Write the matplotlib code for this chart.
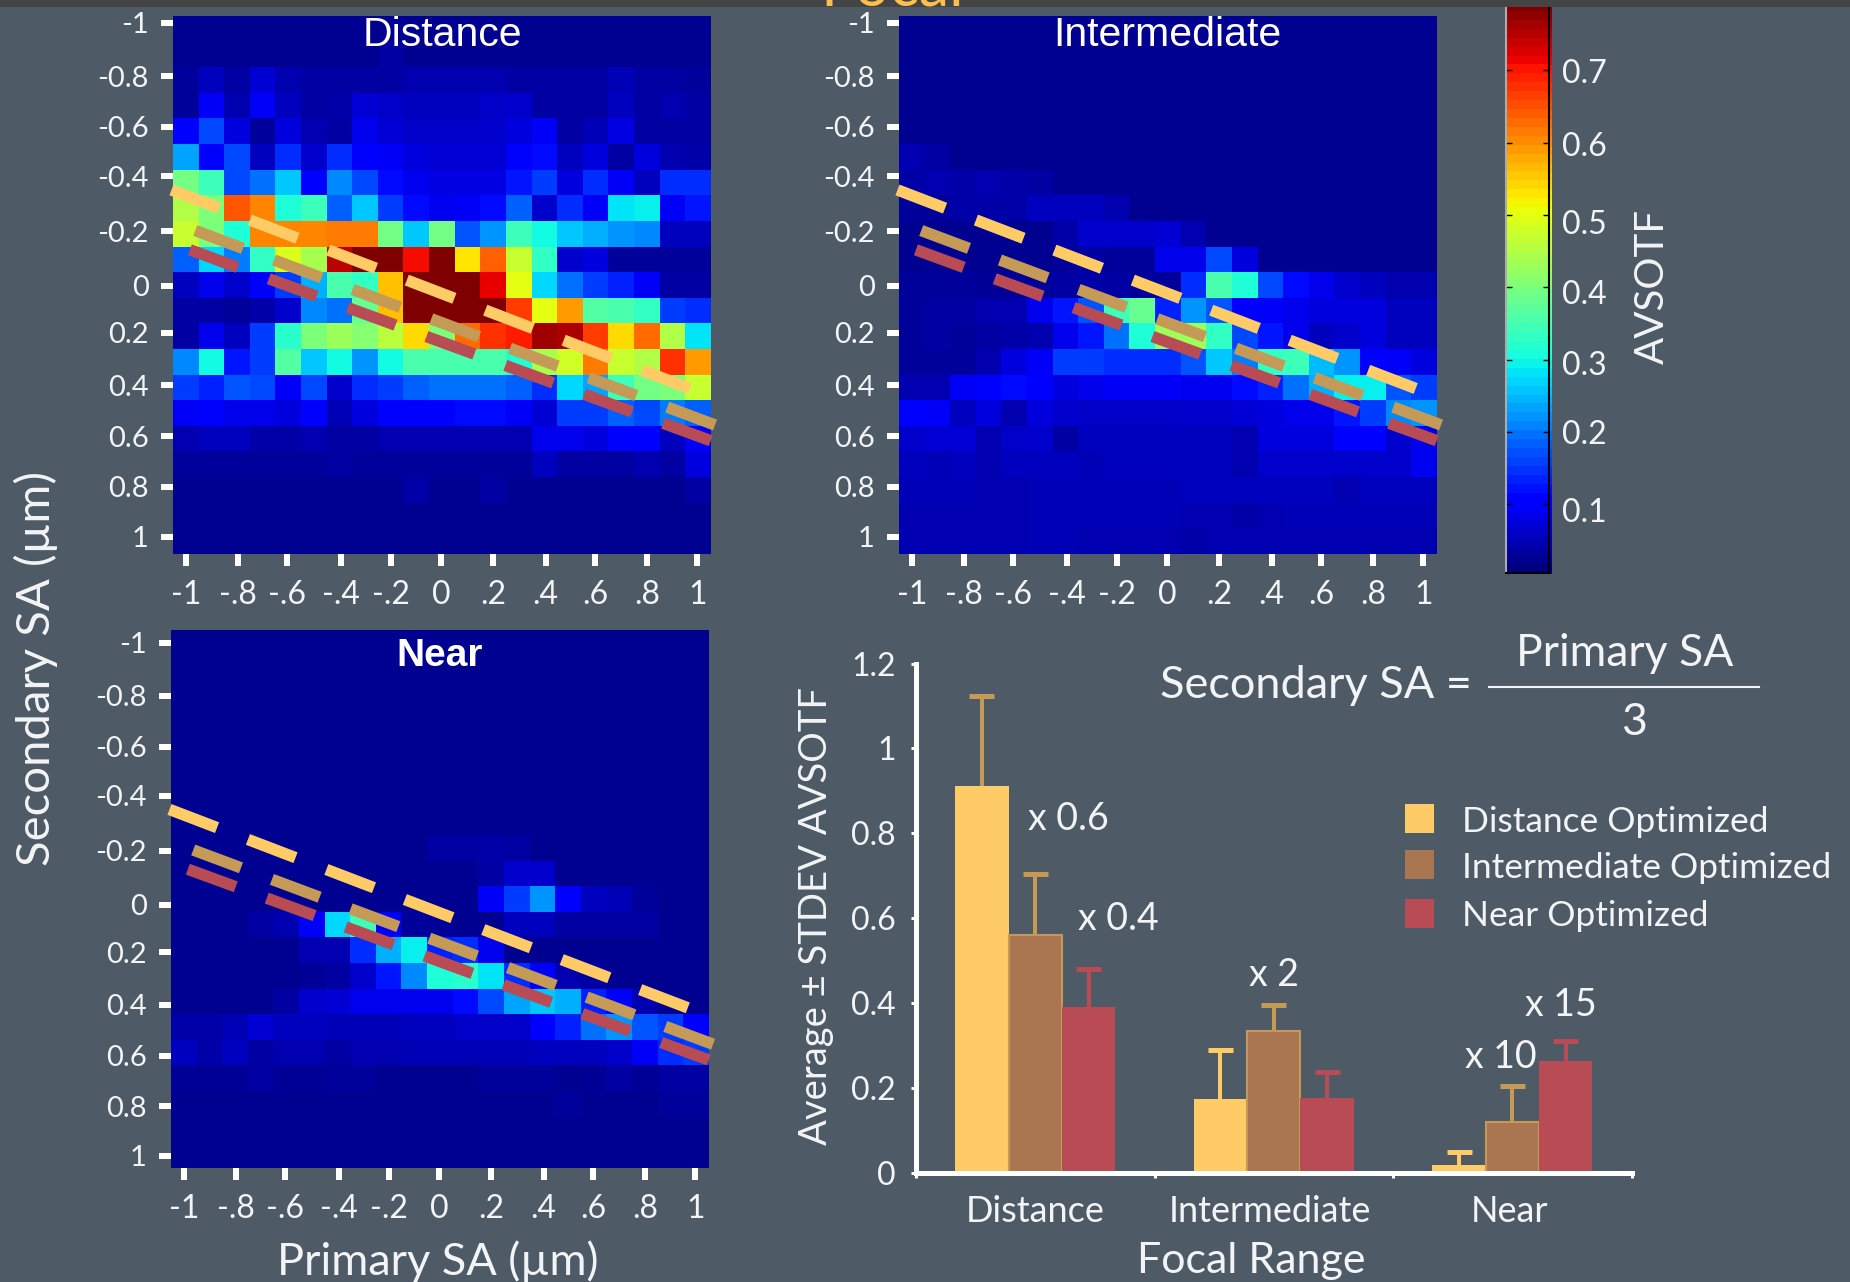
import numpy as np
import matplotlib
matplotlib.use("Agg")
import matplotlib.pyplot as plt
from matplotlib.patches import Rectangle
from matplotlib.transforms import ScaledTranslation

W, H = 1850, 1282
BG = "#4E5A65"
TXT = "#F2F4F5"
FONT = "Lato"
TITLE_FONT = "Liberation Sans"

z = 0.02
distance = [
 [z]*21,
 [z]*8 + [.03] + [z]*12,
 [.025,.05,.03,.065,.04,.03,.03,.03,.03,.04,.04,.04,.04,.03,.03,.03,.03,.045,.03,.03,.025],
 [.025,.09,.04,.09,.05,.03,.035,.065,.055,.05,.05,.05,.055,.06,.03,.03,.03,.05,.03,.04,.03],
 [.10,.16,.07,.025,.07,.04,.03,.08,.065,.055,.055,.055,.06,.07,.09,.03,.045,.075,.03,.03,.03],
 [.23,.10,.16,.05,.14,.06,.14,.10,.09,.07,.065,.065,.065,.095,.11,.05,.07,.03,.07,.04,.035],
 [.39,.34,.16,.19,.26,.10,.21,.16,.11,.085,.075,.075,.075,.12,.15,.07,.14,.09,.05,.14,.14],
 [.45,.40,.65,.61,.31,.34,.18,.26,.15,.11,.085,.09,.11,.18,.06,.14,.09,.28,.29,.09,.12],
 [.47,.40,.31,.61,.61,.61,.62,.62,.39,.26,.39,.17,.22,.34,.30,.26,.24,.22,.21,.05,.05],
 [.18,.27,.20,.33,.49,.44,.75,.79,.79,.71,.79,.53,.64,.47,.33,.06,.07,.025,.025,.025,.025],
 [.05,.08,.06,.10,.15,.24,.35,.33,.56,.79,.79,.79,.72,.50,.27,.19,.15,.13,.09,.03,.03],
 [.03,.03,.025,.035,.06,.21,.19,.38,.56,.79,.79,.79,.79,.67,.50,.59,.36,.35,.33,.15,.14],
 [.03,.08,.05,.15,.32,.40,.43,.41,.46,.54,.40,.63,.68,.70,.77,.76,.67,.54,.63,.45,.28],
 [.21,.30,.12,.15,.36,.26,.30,.22,.30,.35,.35,.35,.35,.31,.44,.48,.62,.47,.45,.68,.59],
 [.15,.13,.17,.16,.09,.16,.06,.14,.15,.18,.19,.19,.19,.18,.14,.27,.23,.34,.39,.40,.47],
 [.09,.10,.08,.08,.07,.10,.045,.07,.10,.105,.105,.11,.11,.09,.065,.15,.15,.18,.16,.20,.18],
 [.04,.05,.05,.035,.035,.04,.03,.03,.04,.04,.04,.04,.04,.04,.08,.08,.07,.105,.105,.05,.09],
 [.025,.025,.025,.025,.025,.025,.03,.025,.025,.025,.025,.025,.025,.025,.05,.03,.03,.03,.04,.03,.07],
 [z]*9 + [.035,z,z,.03] + [z]*7 + [.03],
 [z]*21,
 [z]*21,
]
intermediate = [
 [z]*21, [z]*21, [z]*21, [z]*21, [z]*21,
 [.04,.03] + [z]*19,
 [.035,.04,.035,.04,.035,.03] + [z]*15,
 [.025,.025,.035,.035,.035,.05,.05,.05,.04] + [z]*12,
 [z]*6 + [.035,.06,.06,.06,.065,.04] + [z]*9,
 [z]*6 + [.025,.03,.025,.025,.08,.08,.16,.07] + [z]*7,
 [.025,.025,.025,.022,.022,.025,.03,.035,.03,.025,.025,.14,.35,.31,.16,.11,.08,.06,.05,.04,.04],
 [.025,.03,.03,.04,.04,.08,.12,.17,.34,.38,.13,.22,.17,.10,.09,.08,.07,.07,.07,.05,.05],
 [.025,.03,.025,.03,.035,.04,.08,.12,.19,.31,.43,.43,.33,.16,.12,.08,.05,.06,.07,.05,.05],
 [.025,.025,.025,.04,.07,.09,.15,.15,.14,.14,.14,.17,.26,.20,.33,.34,.25,.22,.10,.09,.07],
 [.04,.04,.09,.10,.11,.10,.07,.08,.09,.09,.09,.085,.085,.11,.13,.19,.24,.29,.29,.17,.15],
 [.10,.09,.05,.07,.04,.07,.06,.055,.055,.055,.055,.06,.06,.065,.07,.08,.08,.12,.15,.21,.22],
 [.06,.065,.065,.04,.055,.06,.03,.05,.05,.05,.05,.05,.05,.04,.07,.07,.07,.10,.10,.06,.08],
 [.05,.045,.05,.04,.05,.05,.05,.045,.05,.05,.05,.05,.05,.04,.06,.06,.06,.06,.06,.06,.085],
 [.045,.045,.045,.04,.04,.045,.045,.045,.045,.045,.045,.05,.05,.05,.05,.05,.05,.04,.05,.05,.05],
 [.04,.04,.04,.04,.04,.045,.045,.045,.045,.045,.045,.04,.04,.035,.04,.045,.045,.045,.045,.045,.045],
 [.04,.04,.04,.04,.04,.045,.045,.04,.04,.04,.04,.035,.04,.04,.04,.04,.04,.04,.04,.04,.04],
]
near = [
 [z]*21, [z]*21, [z]*21, [z]*21, [z]*21, [z]*21, [z]*21, [z]*21,
 [z]*10 + [.03,.03,.035,.03] + [z]*7,
 [z]*12 + [.03,.06,.06] + [z]*6,
 [z]*12 + [.09,.15,.22,.10,.05,.045,.025,z,z],
 [z]*3 + [.03,.04,.09,.27,.34,.09,.025,.025,z,z,.05,.05,.03,.03,.03,.03,z,z],
 [z]*5 + [.04,.04,.14,.24,.29,.13,.14,.08] + [z]*8,
 [z]*5 + [.022,.03,.06,.12,.21,.31,.32,.28,.14,.09,.04,.03,z,z,z,z],
 [z]*4 + [.03,.06,.065,.08,.08,.08,.08,.11,.16,.23,.26,.24,.13,.10,.04,z,z],
 [.035,.035,.045,.065,.05,.05,.045,.045,.045,.05,.05,.055,.055,.055,.095,.13,.19,.22,.17,.15,.10],
 [.05,.035,.05,.03,.04,.04,.03,.04,.04,.045,.045,.045,.045,.045,.05,.05,.05,.055,.09,.14,.15],
 [.022,.022,.022,.03,.022,.022,.024,.024,z,z,z,z,.025,.025,.025,z,.022,.03,.022,.03,.03],
 [z]*15 + [.025,z,z,z,.025,.025],
 [z]*21,
 [z]*21,
]
heat_titles = ["Distance", "Intermediate", "Near"]
vmin, vmax = 0.005, 0.793
cbar_ticks = [0.1, 0.2, 0.3, 0.4, 0.5, 0.6, 0.7]
cbar_label_drop_px = [6, 0, 3.5, 5, 7, 1, 1]

sa_x_ticks = [-1, -.797, -.606, -.393, -.2, -.003, .2, .407, .6, .803, 1]
sa_y_ticks = [-1, -.792, -.595, -.403, -.189, .022, .206, .411, .609, .806, 1]
x_tick_labels = ["-1", "-.8", "-.6", "-.4", "-.2", "0", ".2", ".4", ".6", ".8", "1"]
y_tick_labels = ["-1", "-0.8", "-0.6", "-0.4", "-0.2", "0", "0.2", "0.4", "0.6", "0.8", "1"]

line_distance_x, line_distance_y = [-1.058, 0.971], [-0.350, 0.423]
line_intermediate_x, line_intermediate_y = [-0.965, 1.070], [-0.192, 0.565]
line_near_x, line_near_y = [-0.986, 1.053], [-0.117, 0.626]

ranges = ["Distance", "Intermediate", "Near"]
opt_names = ["Distance Optimized", "Intermediate Optimized", "Near Optimized"]
mean_distance_opt = [0.912, 0.174, 0.017]
mean_intermediate_opt = [0.559, 0.333, 0.120]
mean_near_opt = [0.390, 0.176, 0.262]
std_distance_opt = [0.212, 0.114, 0.031]
std_intermediate_opt = [0.146, 0.061, 0.084]
std_near_opt = [0.089, 0.061, 0.048]
bar_ticks = [0, .2, .4, .6, .8, 1, 1.2]
bar_tick_labels = ["0", "0.2", "0.4", "0.6", "0.8", "1", "1.2"]

YEL, TAN, BRN, RED = "#FFCB66", "#C49A56", "#AA7652", "#B84B54"

plt.rcParams["font.family"] = [FONT, "DejaVu Sans"]
plt.rcParams["lines.scale_dashes"] = False
fig = plt.figure(figsize=(W / 100, H / 100), dpi=100, facecolor=BG)


def box(l, t, r, b):
    return [l / W, 1 - b / H, (r - l) / W, (b - t) / H]


def ftext(x, y, s, size=21, **kw):
    kw.setdefault("ha", "center")
    kw.setdefault("va", "center")
    kw.setdefault("color", TXT)
    if kw.get("rotation") == 90:
        x += 2.5
    else:
        y += 2.5
    return fig.text(x / W, 1 - y / H, s, fontsize=size, **kw)


PX = 72 / 100
fig.add_artist(Rectangle((0, 1 - 7 / H), 1, 7 / H, transform=fig.transFigure, color="#444444", lw=0))
ftext(892, -15, "Focal", size=44, color="#FDBF4F")

panel_data = [distance, intermediate, near]
panel_boxes = [(173, 16, 711, 554), (899, 16, 1437, 554), (171, 630, 709, 1168)]
panel_xlims = [(-1.052, 1.054)] * 3
panel_ylims = [(1.067, -1.027), (1.067, -1.027), (1.047, -1.049)]
for data, (l, t, r, b), xl, yl in zip(panel_data, panel_boxes, panel_xlims, panel_ylims):
    ax = fig.add_axes(box(l, t, r, b))
    ax.imshow(np.array(data), cmap="jet", vmin=vmin, vmax=vmax, aspect="auto",
              interpolation="nearest", extent=(xl[0], xl[1], yl[0], yl[1]))
    ax.set_xlim(xl)
    ax.set_ylim(yl)
    ax.set_xticks(sa_x_ticks, x_tick_labels)
    ax.set_yticks(sa_y_ticks, y_tick_labels)
    ax.tick_params(axis="both", color="white", labelcolor=TXT, width=6 * PX, length=12 * PX)
    ax.tick_params(axis="x", labelsize=23, pad=14 * PX)
    ax.tick_params(axis="y", labelsize=21, pad=12 * PX)
    for sp in ax.spines.values():
        sp.set_visible(False)
    for x, y, c in [(line_distance_x, line_distance_y, YEL),
                    (line_intermediate_x, line_intermediate_y, TAN),
                    (line_near_x, line_near_y, RED)]:
        ax.plot(x, y, color=c, lw=11.5 * PX, clip_on=False, solid_capstyle="butt",
                dash_capstyle="butt", dashes=(51 * PX, 33 * PX))

for title, (x, y), wt, sz in zip(heat_titles, [(442, 32), (1167, 33), (440, 653)],
                                 ["normal", "normal", "bold"], [29.5, 29.5, 28]):
    ftext(x, y, title, size=sz, color="white", family=TITLE_FONT, fontweight=wt)

ftext(33, 669, "Secondary SA (µm)", size=34, rotation=90)
ftext(438, 1259, "Primary SA (µm)", size=32.5)

# colour bar
shadow = fig.add_axes(box(1549, 4, 1551.5, 574))
grad = np.linspace(vmax, vmin, 64).reshape(-1, 1)
shadow.imshow(grad, cmap="jet", vmin=vmin, vmax=vmax, aspect="auto", interpolation="nearest")
shadow.axis("off")
cax = fig.add_axes(box(1506, 3, 1549, 573))
cax.imshow(grad, cmap="jet", vmin=vmin, vmax=vmax, aspect="auto", extent=(0, 1, vmin, vmax),
           interpolation="nearest")
cax.set_xticks([])
cax.set_yticks(cbar_ticks, [str(t) for t in cbar_ticks])
cax.tick_params(axis="y", direction="in", color="black", width=1, length=6 * PX, labelcolor=TXT,
                labelsize=23, left=True, right=True, labelleft=False, labelright=True, pad=13 * PX)
for lab, drop in zip(cax.get_yticklabels(), cbar_label_drop_px):
    lab.set_transform(lab.get_transform() + ScaledTranslation(0, -drop / 100, fig.dpi_scale_trans))
for side, sp in cax.spines.items():
    sp.set_color({"left": "#A9ADB0", "top": "#E5E5E5"}.get(side, "black"))
    sp.set_linewidth(1.5)
ftext(1650, 287, "AVSOTF", size=29, rotation=90)

# bar chart
bax = fig.add_axes(box(916, 663.6, 1631.6, 1172.6))
bax.patch.set_visible(False)
x0 = np.arange(3) + 0.5
bw = 0.2235
series = [
    (mean_distance_opt, std_distance_opt, YEL, [TAN, YEL, YEL], -1),
    (mean_intermediate_opt, std_intermediate_opt, BRN, [TAN, TAN, TAN], 0),
    (mean_near_opt, std_near_opt, RED, [RED, RED, RED], 1),
]
for means, stds, col, ecols, off in series:
    xs = x0 + off * bw
    tops = np.array(means) + np.array(stds)
    bax.vlines(xs, means, tops, colors=ecols, lw=4 * PX, zorder=1)
    bax.scatter(xs, tops, marker="_", s=(25 * PX) ** 2, c=ecols, linewidths=5 * PX, zorder=1, clip_on=False)
    bax.bar(xs, means, width=bw, color=col, edgecolor=TAN if off == 0 else col,
            linewidth=1.5 if off == 0 else 0, zorder=2)
bax.set_xlim(0, 3)
bax.set_ylim(0, 1.2)
bax.set_xticks([0, 1, 2, 3], [])
bax.set_yticks(bar_ticks, bar_tick_labels)
bax.tick_params(axis="both", color="white", labelcolor=TXT, width=3 * PX, length=5 * PX, labelsize=23, pad=15 * PX)
for s in ("top", "right"):
    bax.spines[s].set_visible(False)
for s in ("left", "bottom"):
    bax.spines[s].set_color("white")
    bax.spines[s].set_linewidth(5 * PX)
    bax.spines[s].set_zorder(5)

for name, x in zip(ranges, [1035, 1270, 1509]):
    ftext(x, 1209, name, size=26)
ftext(1251, 1259, "Focal Range", size=31)
ftext(813, 916, "Average ± STDEV AVSOTF", size=27.5, rotation=90)

for s, x, y in [("x 0.6", 1068, 816), ("x 0.4", 1118, 917), ("x 2", 1274, 973), ("x 15", 1561, 1002), ("x 10", 1501, 1055)]:
    ftext(x, y, s, size=27)

ftext(1316, 683, "Secondary SA =", size=32.5)
ftext(1625, 651, "Primary SA", size=32)
ftext(1634, 720, "3", size=32)
fig.add_artist(plt.Line2D([1489 / W, 1759 / W], [1 - 687 / H] * 2, transform=fig.transFigure, color=TXT, lw=1.5))

for name, col, y0 in zip(opt_names, [YEL, BRN, RED], [804, 850, 899]):
    fig.add_artist(Rectangle((1405 / W, 1 - (y0 + 29) / H), 29 / W, 29 / H, transform=fig.transFigure, color=col, lw=0))
    ftext(1462, y0 + 15, name, size=25.5, ha="left")

fig.savefig("out.png", dpi=100, facecolor=BG)
